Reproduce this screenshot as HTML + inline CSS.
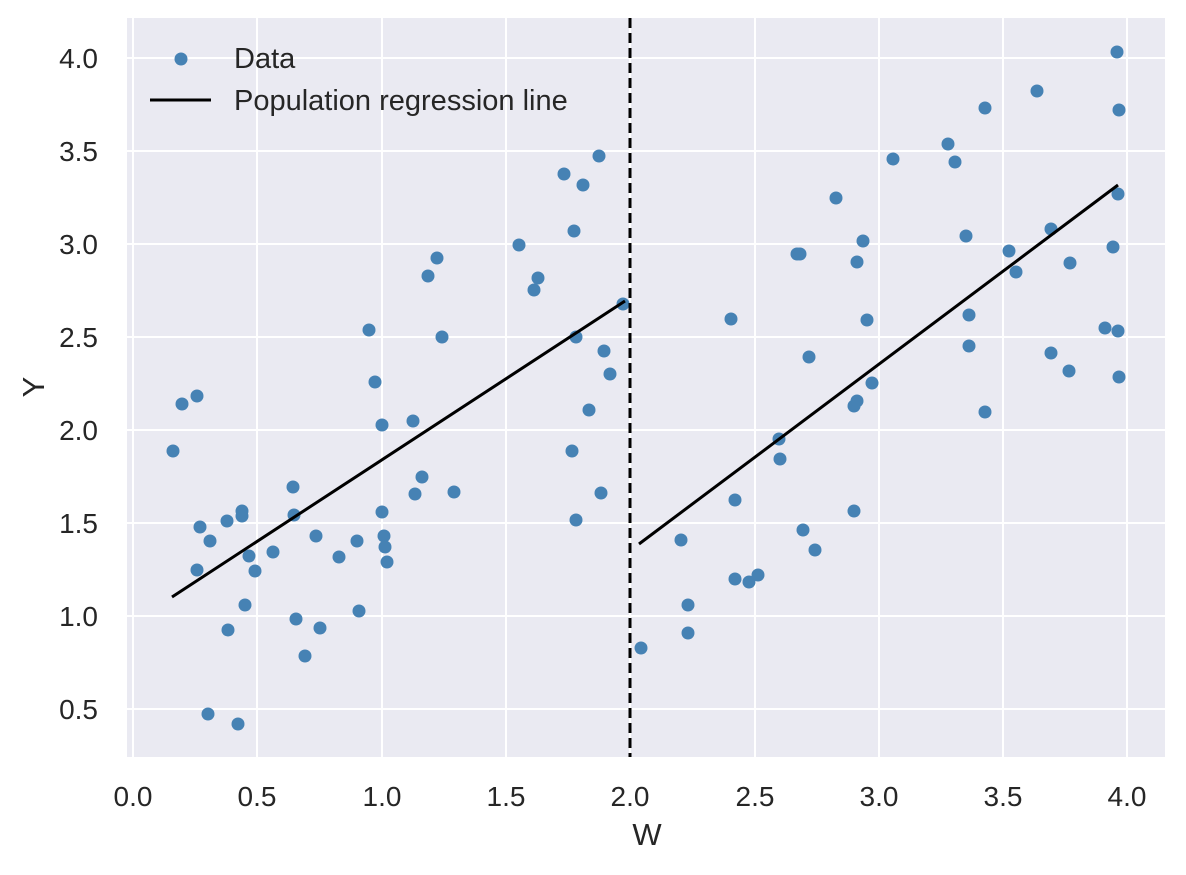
<!DOCTYPE html><html><head><style>body{margin:0;background:#fff}svg text{font-family:"Liberation Sans",sans-serif;fill:#262626}</style></head><body>
<svg width="1186" height="870" xmlns="http://www.w3.org/2000/svg">
<rect x="127" y="18" width="1038" height="739" fill="#EAEAF2"/>
<g stroke="#fff" stroke-width="2">
<line x1="133" y1="18" x2="133" y2="757"/><line x1="257" y1="18" x2="257" y2="757"/><line x1="382" y1="18" x2="382" y2="757"/><line x1="506" y1="18" x2="506" y2="757"/><line x1="630" y1="18" x2="630" y2="757"/><line x1="755" y1="18" x2="755" y2="757"/><line x1="879" y1="18" x2="879" y2="757"/><line x1="1003" y1="18" x2="1003" y2="757"/><line x1="1127" y1="18" x2="1127" y2="757"/>
<line x1="127" y1="58" x2="1165" y2="58"/><line x1="127" y1="151" x2="1165" y2="151"/><line x1="127" y1="244" x2="1165" y2="244"/><line x1="127" y1="337" x2="1165" y2="337"/><line x1="127" y1="430" x2="1165" y2="430"/><line x1="127" y1="523" x2="1165" y2="523"/><line x1="127" y1="616" x2="1165" y2="616"/><line x1="127" y1="709" x2="1165" y2="709"/>
</g>
<g font-size="28" text-anchor="middle">
<text x="133" y="806">0.0</text><text x="257" y="806">0.5</text><text x="382" y="806">1.0</text><text x="506" y="806">1.5</text><text x="630" y="806">2.0</text><text x="755" y="806">2.5</text><text x="879" y="806">3.0</text><text x="1003" y="806">3.5</text><text x="1127" y="806">4.0</text>
</g>
<g font-size="28" text-anchor="end">
<text x="98" y="68">4.0</text><text x="98" y="161">3.5</text><text x="98" y="254">3.0</text><text x="98" y="347">2.5</text><text x="98" y="440">2.0</text><text x="98" y="533">1.5</text><text x="98" y="626">1.0</text><text x="98" y="719">0.5</text>
</g>
<text x="647" y="845" font-size="31" text-anchor="middle">W</text>
<text x="44" y="387" font-size="31" text-anchor="middle" transform="rotate(-90 44 387)">Y</text>
<g fill="#4682b4">
<circle cx="173" cy="451" r="6.5"/><circle cx="182" cy="404" r="6.5"/><circle cx="197" cy="396" r="6.5"/><circle cx="197" cy="570" r="6.5"/><circle cx="200" cy="527" r="6.5"/><circle cx="208" cy="714" r="6.5"/><circle cx="210" cy="541" r="6.5"/><circle cx="227" cy="521" r="6.5"/><circle cx="228" cy="630" r="6.5"/><circle cx="238" cy="724" r="6.5"/><circle cx="242" cy="511" r="6.5"/><circle cx="242" cy="516" r="6.5"/><circle cx="245" cy="605" r="6.5"/><circle cx="249" cy="556" r="6.5"/><circle cx="255" cy="571" r="6.5"/><circle cx="273" cy="552" r="6.5"/><circle cx="293" cy="487" r="6.5"/><circle cx="294" cy="515" r="6.5"/><circle cx="296" cy="619" r="6.5"/><circle cx="305" cy="656" r="6.5"/><circle cx="316" cy="536" r="6.5"/><circle cx="320" cy="628" r="6.5"/><circle cx="339" cy="557" r="6.5"/><circle cx="357" cy="541" r="6.5"/><circle cx="359" cy="611" r="6.5"/><circle cx="369" cy="330" r="6.5"/><circle cx="375" cy="382" r="6.5"/><circle cx="382" cy="425" r="6.5"/><circle cx="382" cy="512" r="6.5"/><circle cx="384" cy="536" r="6.5"/><circle cx="385" cy="547" r="6.5"/><circle cx="387" cy="562" r="6.5"/><circle cx="413" cy="421" r="6.5"/><circle cx="415" cy="494" r="6.5"/><circle cx="422" cy="477" r="6.5"/><circle cx="428" cy="276" r="6.5"/><circle cx="437" cy="258" r="6.5"/><circle cx="442" cy="337" r="6.5"/><circle cx="454" cy="492" r="6.5"/><circle cx="519" cy="245" r="6.5"/><circle cx="534" cy="290" r="6.5"/><circle cx="538" cy="278" r="6.5"/><circle cx="564" cy="174" r="6.5"/><circle cx="572" cy="451" r="6.5"/><circle cx="574" cy="231" r="6.5"/><circle cx="576" cy="337" r="6.5"/><circle cx="576" cy="520" r="6.5"/><circle cx="583" cy="185" r="6.5"/><circle cx="589" cy="410" r="6.5"/><circle cx="599" cy="156" r="6.5"/><circle cx="601" cy="493" r="6.5"/><circle cx="604" cy="351" r="6.5"/><circle cx="610" cy="374" r="6.5"/><circle cx="623" cy="304" r="6.5"/><circle cx="641" cy="648" r="6.5"/><circle cx="681" cy="540" r="6.5"/><circle cx="688" cy="605" r="6.5"/><circle cx="688" cy="633" r="6.5"/><circle cx="731" cy="319" r="6.5"/><circle cx="735" cy="579" r="6.5"/><circle cx="735" cy="500" r="6.5"/><circle cx="749" cy="582" r="6.5"/><circle cx="758" cy="575" r="6.5"/><circle cx="779" cy="439" r="6.5"/><circle cx="780" cy="459" r="6.5"/><circle cx="797" cy="254" r="6.5"/><circle cx="800" cy="254" r="6.5"/><circle cx="803" cy="530" r="6.5"/><circle cx="809" cy="357" r="6.5"/><circle cx="815" cy="550" r="6.5"/><circle cx="836" cy="198" r="6.5"/><circle cx="854" cy="511" r="6.5"/><circle cx="854" cy="406" r="6.5"/><circle cx="857" cy="262" r="6.5"/><circle cx="857" cy="401" r="6.5"/><circle cx="863" cy="241" r="6.5"/><circle cx="867" cy="320" r="6.5"/><circle cx="872" cy="383" r="6.5"/><circle cx="893" cy="159" r="6.5"/><circle cx="948" cy="144" r="6.5"/><circle cx="955" cy="162" r="6.5"/><circle cx="966" cy="236" r="6.5"/><circle cx="969" cy="315" r="6.5"/><circle cx="969" cy="346" r="6.5"/><circle cx="985" cy="412" r="6.5"/><circle cx="985" cy="108" r="6.5"/><circle cx="1009" cy="251" r="6.5"/><circle cx="1016" cy="272" r="6.5"/><circle cx="1037" cy="91" r="6.5"/><circle cx="1051" cy="229" r="6.5"/><circle cx="1051" cy="353" r="6.5"/><circle cx="1070" cy="263" r="6.5"/><circle cx="1069" cy="371" r="6.5"/><circle cx="1105" cy="328" r="6.5"/><circle cx="1113" cy="247" r="6.5"/><circle cx="1117" cy="52" r="6.5"/><circle cx="1118" cy="194" r="6.5"/><circle cx="1118" cy="331" r="6.5"/><circle cx="1119" cy="110" r="6.5"/><circle cx="1119" cy="377" r="6.5"/>
<circle cx="181" cy="59" r="6.5"/>
</g>
<g stroke="#000" stroke-width="3">
<line x1="172" y1="597" x2="625" y2="301"/><line x1="639" y1="544" x2="1118" y2="185"/>
<line x1="630" y1="18" x2="630" y2="757" stroke-dasharray="10,5"/>
<line x1="150" y1="100" x2="211" y2="100"/>
</g>
<text x="234" y="68" font-size="29">Data</text>
<text x="234" y="110" font-size="29">Population regression line</text>
</svg></body></html>
